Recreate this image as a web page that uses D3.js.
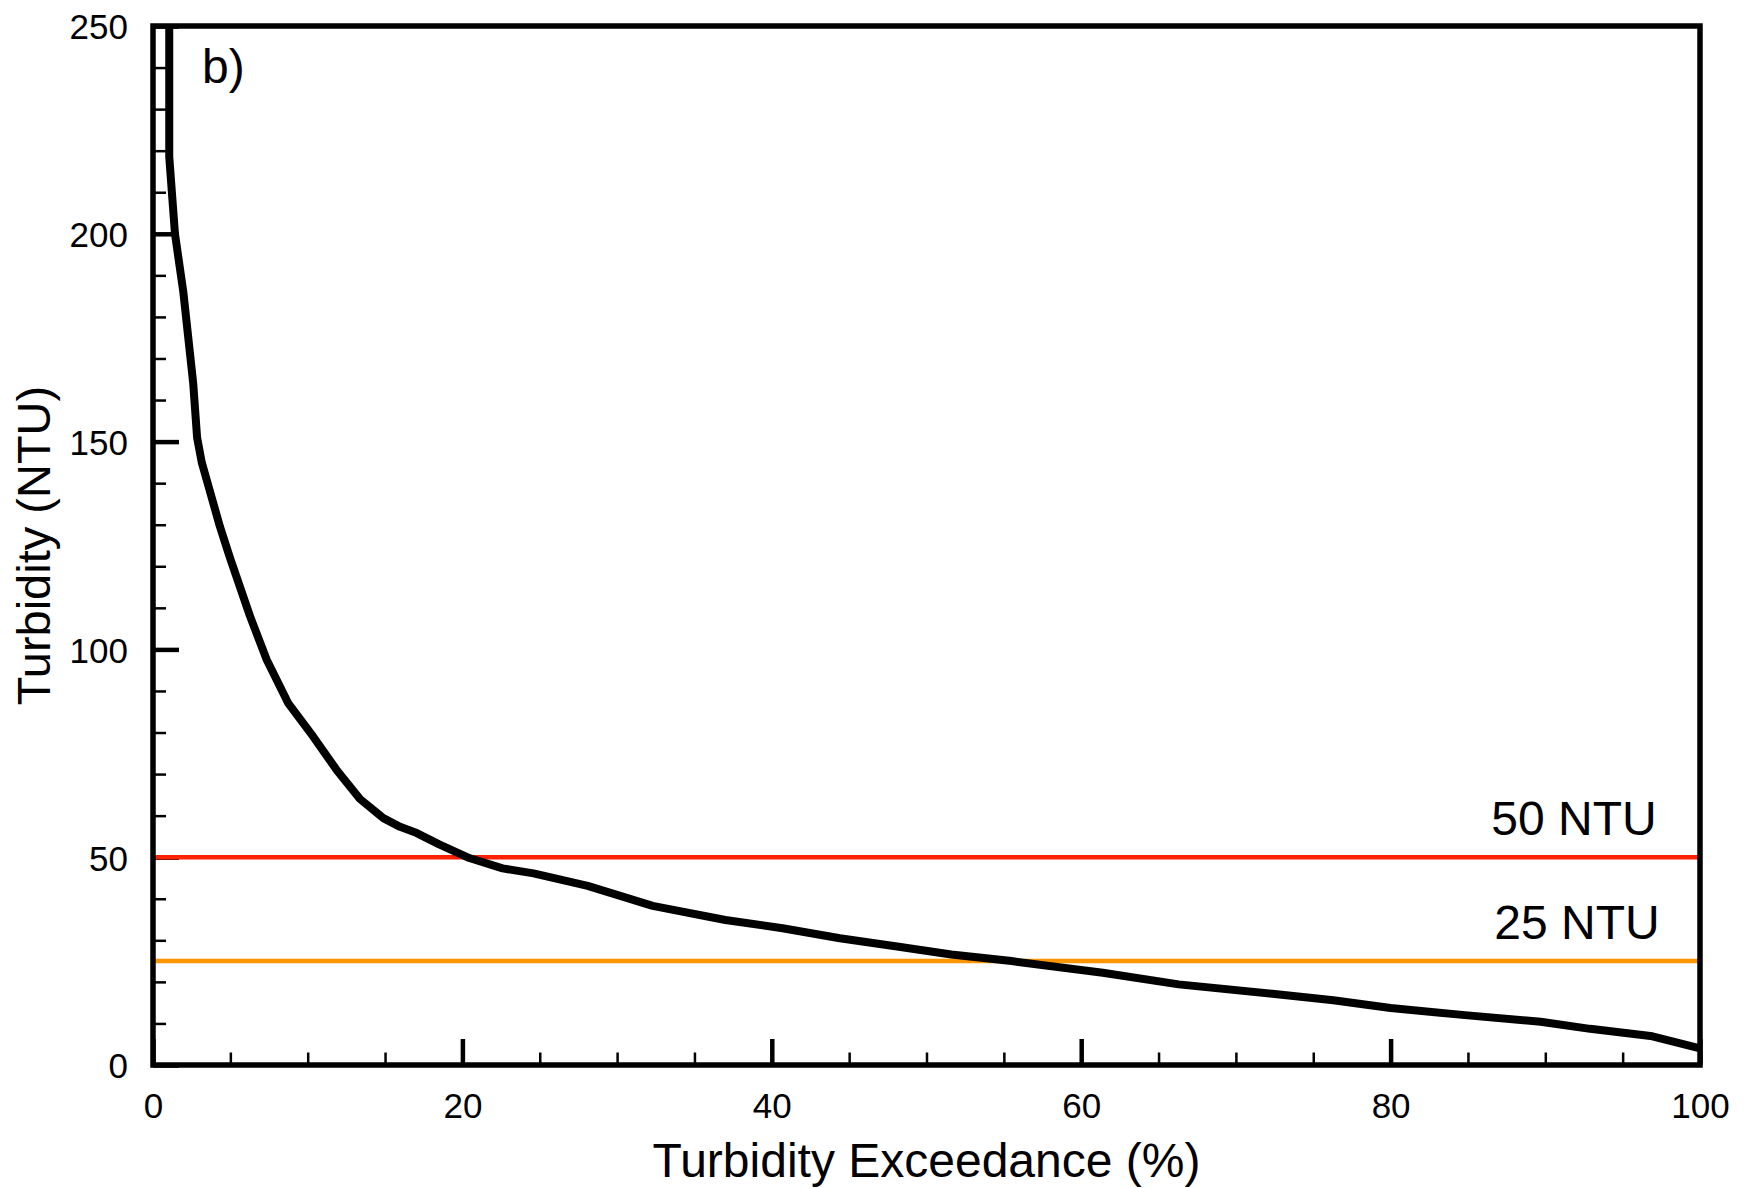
<!DOCTYPE html>
<html>
  <head>
    <meta charset="UTF-8" />
    <title>Turbidity exceedance</title>
    <script src="https://d3js.org/d3.v7.min.js"></script>
    <style>
      body {
        margin: 0;
        background: #fff;
      }
      svg {
        font-family: Helvetica, Arial, 'Liberation Sans', sans-serif;
      }
    </style>
  </head>

  <body>
    <div id="main"></div>
    <script type="text/javascript">
      // duration curve
      const exceedance = [1.05, 1.05, 1.42, 1.96, 2.6, 2.85, 3.15, 4.33, 4.98, 6.27, 7.35, 8.75,
        10.36, 11.87, 13.38, 14.89, 15.97, 17.05, 18.5, 20.45, 22.6, 24.6, 28.1, 32.3, 37.0,
        40.7, 44.4, 48.1, 51.6, 55.5, 61.4, 66.3, 72.5, 76.3, 80.0, 84.8, 89.7, 92.9, 96.8, 100];
      const turbidity = [262, 218.5, 200, 186, 164, 151, 145, 129.5, 122, 108, 97.5, 87,
        79, 71, 64, 59.4, 57.3, 55.8, 53.1, 49.8, 47.3, 46.1, 43.1, 38.3, 34.9,
        32.9, 30.5, 28.5, 26.6, 25.0, 22.2, 19.4, 17.1, 15.6, 13.7, 12.0, 10.4, 8.7, 7.0, 4.0];

      const thresholds = [50, 25];
      const thresholdLabels = ['50 NTU', '25 NTU'];
      const thresholdColors = ['#ff2200', '#ff9500'];

      const xMajor = [0, 20, 40, 60, 80, 100];
      const xMinor = d3.range(0, 101, 5).filter((d) => d % 20 !== 0);
      const yMajor = [0, 50, 100, 150, 200, 250];
      const yMinor = d3.range(0, 251, 10).filter((d) => d % 50 !== 0);

      const width = 1756;
      const height = 1188;
      const margin = { top: 26, right: 56, bottom: 123, left: 153 };

      const svg = d3
        .select('div#main')
        .append('svg')
        .attr('width', width)
        .attr('height', height);

      const x = d3.scaleLinear().domain([0, 100]).range([margin.left, width - margin.right]);
      const y = d3.scaleLinear().domain([0, 250]).range([height - margin.bottom, margin.top]);

      svg
        .append('clipPath')
        .attr('id', 'plot')
        .append('rect')
        .attr('x', x(0))
        .attr('y', y(250))
        .attr('width', x(100) - x(0))
        .attr('height', y(0) - y(250));

      // axes, ticks inside the frame
      const gx = svg.append('g').attr('transform', `translate(0,${y(0)})`);
      gx.call(d3.axisBottom(x).tickValues(xMajor).tickSize(-26).tickPadding(28));
      gx.append('g').call(d3.axisBottom(x).tickValues(xMinor).tickSize(-12.5).tickFormat(''));

      const gy = svg.append('g').attr('transform', `translate(${x(0)},0)`);
      gy.call(d3.axisLeft(y).tickValues(yMajor).tickSize(-26).tickPadding(25));
      gy.append('g').call(d3.axisLeft(y).tickValues(yMinor).tickSize(-13).tickFormat(''));

      svg.selectAll('.domain').remove();
      svg.selectAll('.tick line').attr('stroke', '#000').attr('stroke-width', 2.5);
      gx.selectAll(':scope > .tick line').attr('stroke-width', 4.5);
      gy.selectAll(':scope > .tick line').attr('stroke-width', 4.5);
      svg
        .selectAll('.tick text')
        .attr('fill', '#000')
        .attr('font-size', 35)
        .attr('font-family', 'Helvetica, Arial, Liberation Sans, sans-serif');
      gy.selectAll('.tick text').attr('dy', '0.37em');

      // threshold lines
      svg
        .selectAll('line.thr')
        .data(thresholds)
        .join('line')
        .attr('class', 'thr')
        .attr('x1', x(0))
        .attr('x2', x(100))
        .attr('y1', (d) => y(d))
        .attr('y2', (d) => y(d))
        .attr('stroke', (d, i) => thresholdColors[i])
        .attr('stroke-width', 4.5);

      svg
        .selectAll('text.thr')
        .data(thresholds)
        .join('text')
        .attr('class', 'thr')
        .attr('x', (d, i) => x(97.2) + i * 3)
        .attr('y', (d) => y(d) - 22)
        .attr('text-anchor', 'end')
        .attr('font-size', 48)
        .text((d, i) => thresholdLabels[i]);

      // curve
      const line = d3
        .line()
        .x((d) => x(d[0]))
        .y((d) => y(d[1]));

      svg
        .append('path')
        .datum(d3.zip(exceedance, turbidity))
        .attr('clip-path', 'url(#plot)')
        .attr('d', line)
        .attr('fill', 'none')
        .attr('stroke', '#000')
        .attr('stroke-width', 8)
        .attr('stroke-linejoin', 'round');

      // frame
      svg
        .append('rect')
        .attr('x', x(0))
        .attr('y', y(250))
        .attr('width', x(100) - x(0))
        .attr('height', y(0) - y(250))
        .attr('fill', 'none')
        .attr('stroke', '#000')
        .attr('stroke-width', 5.5);

      // labels
      svg
        .append('text')
        .attr('x', (x(0) + x(100)) / 2)
        .attr('y', 1177)
        .attr('text-anchor', 'middle')
        .attr('font-size', 48)
        .text('Turbidity Exceedance (%)');

      svg
        .append('text')
        .attr('transform', `translate(50,${(y(0) + y(250)) / 2}) rotate(-90)`)
        .attr('text-anchor', 'middle')
        .attr('font-size', 47)
        .text('Turbidity (NTU)');

      svg
        .append('text')
        .attr('x', 202)
        .attr('y', 83)
        .attr('font-size', 48)
        .text('b)');
    </script>
  </body>
</html>
